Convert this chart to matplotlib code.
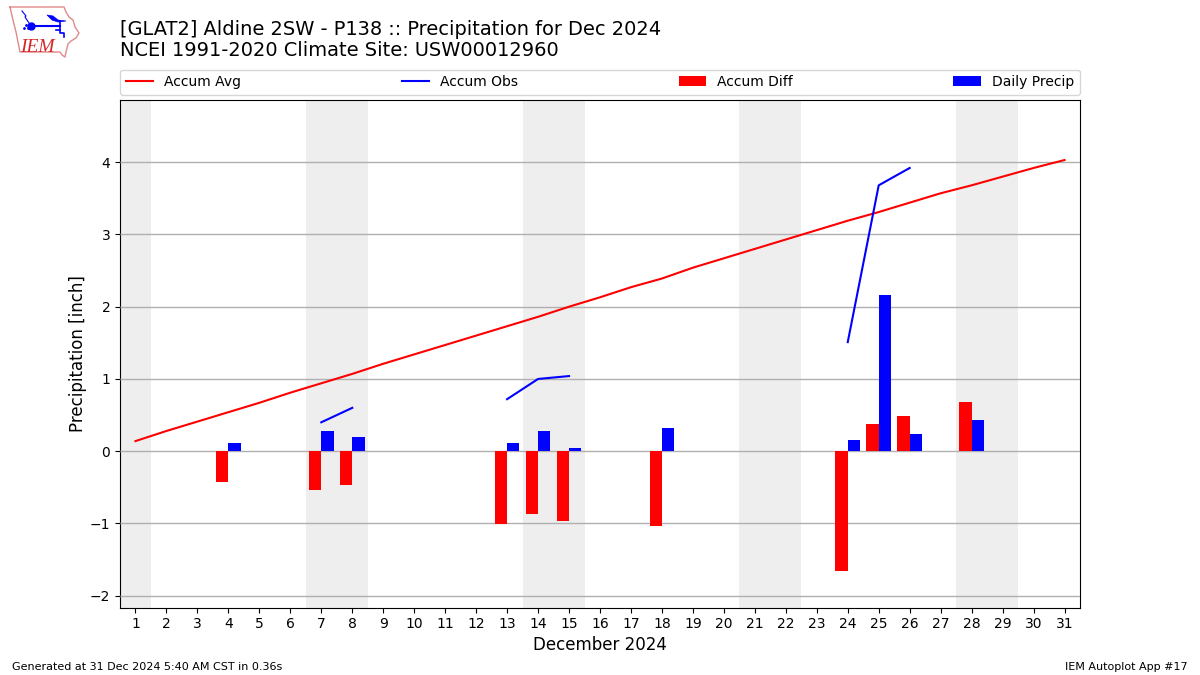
import numpy as np
import matplotlib
matplotlib.use("Agg")
import matplotlib.pyplot as plt

days = list(range(1, 32))
nan = float("nan")

# climatology accumulated precip
accum_avg = [0.14, 0.28, 0.41, 0.54, 0.67, 0.81, 0.94, 1.07, 1.21, 1.34, 1.47,
             1.60, 1.73, 1.86, 2.00, 2.13, 2.27, 2.39, 2.54, 2.67, 2.80, 2.93,
             3.06, 3.19, 3.31, 3.44, 3.57, 3.68, 3.80, 3.92, 4.03]

# missing days break the line, so lone days draw nothing
accum_obs = [nan, nan, nan, 0.11, nan, nan, 0.40, 0.60, nan, nan, nan, nan,
             0.72, 1.00, 1.04, nan, nan, 1.36, nan, nan, nan, nan, nan,
             1.51, 3.68, 3.92, nan, 4.34, nan, nan, nan]

precip_days = [4, 7, 8, 13, 14, 15, 18, 24, 25, 26, 28]
daily_precip = [0.11, 0.28, 0.20, 0.11, 0.28, 0.04, 0.32, 0.15, 2.16, 0.24, 0.43]
accum_diff = [-0.43, -0.54, -0.47, -1.01, -0.87, -0.96, -1.03, -1.66, 0.37, 0.49, 0.68]

weekends = [(0.5, 1.5), (6.5, 8.5), (13.5, 15.5), (20.5, 22.5), (27.5, 29.5)]

fig = plt.figure(figsize=(12, 6.75), dpi=100)
ax = fig.add_axes([120 / 1200, 1 - 607.7 / 675, 960 / 1200, 508 / 675])

for start, end in weekends:
    ax.axvspan(start, end, color="#eeeeee", lw=0, zorder=1)

ax.grid(True, axis="y", color="#b0b0b0", lw=1, zorder=2)
ax.set_axisbelow(False)
for line in ax.get_ygridlines():
    line.set_zorder(2)

ax.plot(days, accum_avg, color="r", lw=1.5, label="Accum Avg", zorder=4)
ax.plot(days, accum_obs, color="b", lw=1.5, label="Accum Obs", zorder=4)
ax.bar(np.array(precip_days) - 0.2, accum_diff, width=0.4, color="r",
       label="Accum Diff", zorder=3)
ax.bar(np.array(precip_days) + 0.2, daily_precip, width=0.4, color="b",
       label="Daily Precip", zorder=3)

ax.set_xlim(0.5, 31.5)
ax.set_ylim(-2.166, 4.865)
ax.set_xticks(days)
ax.set_yticks([-2, -1, 0, 1, 2, 3, 4])
ax.tick_params(labelsize=10)
ax.set_xlabel("December 2024", fontsize=12, labelpad=3)
ax.set_ylabel("Precipitation [inch]", fontsize=12, labelpad=2)

ax.legend(loc="lower left", bbox_to_anchor=(0, 1.01, 1, 0.05), ncol=4,
          mode="expand", borderaxespad=0, fontsize=10)

fig.text(120 / 1200, 1 - 35 / 675, "[GLAT2] Aldine 2SW - P138 :: Precipitation for Dec 2024",
         fontsize=13.95, va="baseline")
fig.text(120 / 1200, 1 - 56.5 / 675, "NCEI 1991-2020 Climate Site: USW00012960",
         fontsize=13.95, va="baseline")
fig.text(12 / 1200, 1 - 670 / 675, "Generated at 31 Dec 2024 5:40 AM CST in 0.36s",
         fontsize=8, va="baseline")
fig.text(1188 / 1200, 1 - 670 / 675, "IEM Autoplot App #17", fontsize=8,
         ha="right", va="baseline")

# logo, drawn in pixel coordinates
logo = fig.add_axes([0, 1 - 65 / 675, 90 / 1200, 65 / 675])
logo.set_xlim(0, 90)
logo.set_ylim(65, 0)
logo.axis("off")
outline_x = [10, 64, 66, 69, 73, 75, 79, 76, 71, 68, 66, 65, 62, 60, 20, 18, 16, 13, 10]
outline_y = [7, 7, 12, 17, 20, 27, 33, 38, 41, 44, 52, 57, 55, 52, 52, 42, 32, 20, 7]
logo.plot(outline_x, outline_y, color="#e08a8a", lw=1)
logo.plot([31, 60], [26, 26], color="b", lw=1.5)
logo.plot([31], [26], "o", color="b", ms=5)
logo.fill([47, 53, 58, 66, 58, 52], [15, 16, 20, 21, 22, 20], color="b", lw=0.5)
logo.plot([60, 60, 64, 64], [21, 33, 33, 37], color="b", lw=1.2)
logo.plot([56, 60], [30, 30], color="b", lw=1.2)
logo.plot([22, 26, 25, 31], [11, 16, 17, 26], color="b", lw=0.8)
logo.plot([24, 26, 28], [28, 25, 28], ".", color="b", ms=2)
logo.text(20.5, 52, "IEM", color="#d62728", fontsize=14, family="Liberation Serif",
          style="italic", va="baseline")

fig.savefig("out.png", dpi=100)
